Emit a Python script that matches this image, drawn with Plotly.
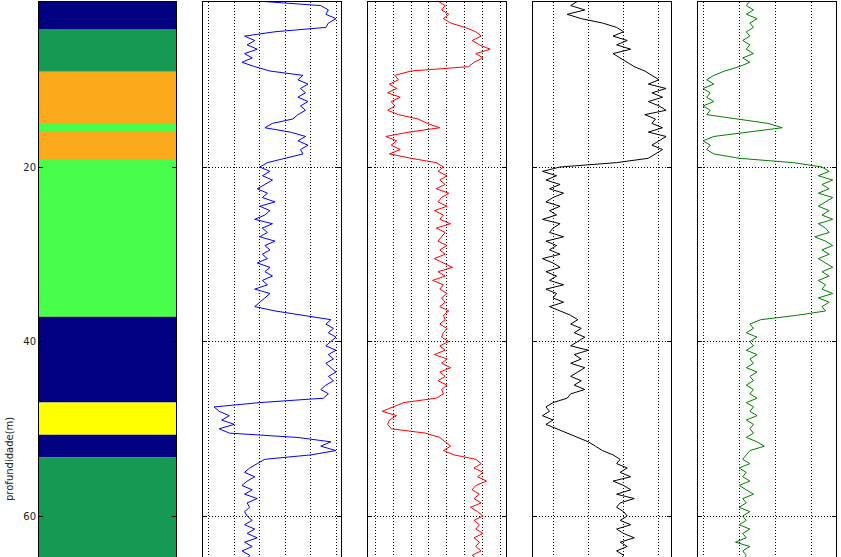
import plotly.graph_objects as go

# ---------------- data ----------------
# facies column: band tops / bottoms (m) and colours
facies_top = [1.0, 4.18, 9.08, 15.07, 15.87, 19.2, 37.16, 47.0, 50.7, 53.3]
facies_bottom = [4.18, 9.08, 15.07, 15.87, 19.2, 37.16, 47.0, 50.7, 53.3, 66.0]
facies_color = ["#000080", "#169952", "#F9A91A", "#47FF4A", "#F9A91A",
                "#47FF4A", "#000080", "#FFFF00", "#000080", "#169952"]

depth_start = 1.0
depth_step = 0.5

log_blue = [2.0, 4.4, 4.7, 4.6, 5.0, 4.7, 4.6, 2.6, 1.4, 1.8, 1.5, 1.9, 1.4, 1.7, 1.3, 1.8,
            2.4, 3.7, 3.5, 3.9, 3.6, 3.8, 3.5, 3.9, 3.6, 3.8, 3.5, 3.3, 2.5, 2.2, 3.2, 3.8,
            3.5, 3.9, 3.6, 3.7, 3.0, 2.3, 2.0, 2.4, 2.1, 2.5, 2.2, 1.9, 2.3, 2.1, 2.6, 2.0,
            2.4, 2.2, 1.8, 2.5, 2.1, 2.3, 2.0, 2.6, 2.2, 2.4, 2.1, 2.3, 1.9, 2.4, 2.2, 2.5,
            2.1, 2.3, 1.8, 2.4, 2.2, 2.0, 1.8, 2.6, 3.8, 4.8, 4.6, 4.9, 4.7, 5.0, 4.8, 4.6,
            5.0, 4.7, 4.9, 4.6, 4.8, 5.0, 4.7, 4.9, 4.6, 4.4, 4.7, 4.5, 2.0, 0.2, 0.4, 0.8,
            0.5, 1.0, 0.4, 0.8, 3.5, 4.8, 4.4, 5.0, 4.0, 2.2, 1.9, 1.6, 1.4, 1.8, 1.5, 1.3,
            1.7, 1.4, 1.9, 1.5, 1.6, 1.4, 1.5, 1.7, 1.4, 1.8, 1.5, 1.9, 1.4, 1.7, 1.3, 1.6,
            1.5]

log_red = [3.5, 3.9, 3.7, 4.1, 3.8, 4.2, 5.0, 5.6, 5.9, 5.4, 5.8, 6.4, 5.6, 6.0, 5.5, 5.2,
           2.0, 1.1, 1.3, 0.8, 1.2, 0.7, 1.4, 0.9, 1.1, 0.7, 1.3, 2.4, 2.9, 3.6, 1.9, 0.6,
           1.2, 0.9, 1.4, 0.8, 2.0, 3.4, 3.8, 3.5, 4.0, 3.6, 3.9, 3.4, 4.1, 3.7, 3.5, 4.0,
           3.3, 3.8, 3.6, 4.2, 3.4, 3.9, 3.7, 3.5, 4.0, 3.6, 3.9, 3.3, 3.8, 4.3, 3.5, 3.9,
           3.2, 3.8, 3.6, 4.0, 3.7, 3.9, 3.6, 4.1, 3.8, 3.9, 3.6, 4.0, 3.8, 3.7, 4.1, 3.6,
           3.9, 3.3, 4.0, 3.7, 4.2, 3.6, 3.9, 3.5, 4.0, 3.7, 3.8, 3.4, 1.6, 1.0, 0.4, 1.2,
           0.8, 0.7, 0.9, 2.8, 3.6, 3.9, 4.2, 3.8, 4.4, 5.6, 5.9, 5.5, 6.0, 5.7, 6.2, 5.6,
           5.4, 5.8, 5.5, 5.9, 5.3, 5.7, 6.0, 5.5, 5.8, 5.6, 6.0, 5.5, 5.8, 5.6, 5.9, 5.4,
           5.7]

log_black = [0.7, 0.5, 0.9, 0.4, 0.8, 1.4, 1.8, 2.0, 1.7, 2.1, 1.8, 2.2, 1.7, 1.9, 2.1, 2.3,
             2.6, 2.8, 3.0, 2.7, 3.2, 2.8, 3.1, 2.7, 3.0, 3.2, 2.6, 2.9, 2.8, 3.1, 2.7, 3.2,
             3.0, 2.8, 3.1, 2.9, 2.7, 1.8, 0.2, -0.3, 0.1, -0.2, 0.2, -0.1, 0.3, 0.0, -0.2, 0.2,
             -0.1, 0.1, -0.3, 0.2, 0.0, -0.1, 0.3, -0.2, 0.1, -0.1, 0.2, -0.3, 0.0, 0.2, -0.2, 0.1,
             -0.1, 0.3, -0.2, 0.1, 0.0, 0.3, -0.1, 0.2, 0.5, 0.7, 0.5, 0.8, 0.6, 0.9, 0.7, 0.5,
             1.0, 0.6, 0.8, 0.5, 0.9, 0.7, 0.5, 0.8, 0.6, 0.9, 0.5, 0.4, 0.0, -0.2, -0.1, -0.3,
             0.0, -0.2, 0.1, 0.4, 0.7, 1.0, 1.2, 1.4, 1.7, 1.9, 1.8, 2.1, 1.9, 2.2, 1.7, 2.0,
             2.2, 1.8, 2.3, 1.9, 1.8, 2.0, 2.1, 1.9, 2.2, 1.8, 2.0, 2.3, 1.9, 2.1, 1.8, 2.0,
             1.9]

log_green = [1.3, 1.2, 1.4, 1.2, 1.5, 1.3, 1.4, 1.2, 1.3, 1.1, 1.3, 1.2, 1.4, 1.1, 1.3, 1.0,
             0.6, 0.3, 0.1, 0.3, 0.0, 0.2, 0.1, 0.3, 0.0, 0.2, 0.1, 1.0, 1.8, 2.2, 1.2, 0.3,
             0.0, 0.2, 0.1, 0.3, 1.0, 2.5, 3.3, 3.5, 3.2, 3.6, 3.3, 3.5, 3.2, 3.6, 3.4, 3.2,
             3.5, 3.3, 3.6, 3.2, 3.4, 3.5, 3.1, 3.4, 3.6, 3.3, 3.5, 3.2, 3.4, 3.6, 3.3, 3.5,
             3.2, 3.4, 3.3, 3.6, 3.2, 3.5, 3.3, 3.4, 2.6, 1.6, 1.3, 1.4, 1.2, 1.5, 1.3, 1.4,
             1.2, 1.5, 1.3, 1.4, 1.2, 1.5, 1.3, 1.4, 1.2, 1.4, 1.3, 1.5, 1.2, 1.4, 1.3, 1.5,
             1.2, 1.4, 1.3, 1.4, 1.2, 1.5, 1.7, 1.3, 1.2, 1.1, 1.3, 1.0, 1.2, 1.1, 1.3, 1.0,
             1.2, 1.4, 1.1, 1.2, 1.0, 1.3, 1.1, 1.2, 1.0, 1.3, 1.1, 1.2, 0.9, 1.3, 1.1, 1.2,
             1.1]

y_ticks = [20, 40, 60]
y_tick_labels = ["20", "40", "60"]
y_title = "profundidade(m)"

# ---------------- figure ----------------
W, H = 841, 557
fig = go.Figure()

# facies column
fig.add_trace(go.Bar(
    x=[0] * len(facies_top),
    y=[b - t for t, b in zip(facies_top, facies_bottom)],
    base=facies_top,
    width=1.0,
    marker=dict(color=facies_color, line=dict(width=0)),
    xaxis="x", yaxis="y", showlegend=False, hoverinfo="skip",
))

logs = [(log_blue, "blue"), (log_red, "red"), (log_black, "black"), (log_green, "green")]
for i, (vals, col) in enumerate(logs):
    depth = [depth_start + depth_step * k for k in range(len(vals))]
    fig.add_trace(go.Scatter(
        x=vals, y=depth, mode="lines",
        line=dict(color=col, width=1),
        xaxis="x%d" % (i + 2), yaxis="y%d" % (i + 2), showlegend=False,
    ))

# panel geometry (pixels)
panels_px = [(39, 176), (203, 341), (368, 506), (533, 671), (698, 836)]
x_ranges = [[-0.5, 0.5], [-0.236, 5.197], [-0.39, 7.28], [-0.567, 3.34], [-0.14, 3.69]]
x_ticks = [None, [0, 1, 2, 3, 4, 5], [0, 1, 2, 3, 4, 5, 6, 7], [0, 1, 2, 3], [0, 1, 2, 3]]

y_top_px = 2
y_dom = [0, 1 - y_top_px / H]
# depth scale: y_px = 8.725*d - 7.5
d_top = (y_top_px + 7.5) / 8.725
d_bot = (H + 7.5) / 8.725

DOT = "1px,2px"

layout = dict(
    width=W, height=H,
    margin=dict(l=0, r=0, t=0, b=0),
    paper_bgcolor="white", plot_bgcolor="white",
    barmode="overlay",
    font=dict(family="DejaVu Sans", size=10, color="#222"),
)

for i in range(5):
    xa = "xaxis" if i == 0 else "xaxis%d" % (i + 1)
    ya = "yaxis" if i == 0 else "yaxis%d" % (i + 1)
    yref = "y" if i == 0 else "y%d" % (i + 1)
    x0, x1 = panels_px[i]
    layout[xa] = dict(
        domain=[x0 / W, x1 / W], anchor=yref, range=x_ranges[i],
        side="top", showline=True, linecolor="black", linewidth=1,
        showticklabels=False, ticks="", zeroline=False,
        showgrid=x_ticks[i] is not None,
        tickmode="array", tickvals=x_ticks[i] if x_ticks[i] else [],
        gridcolor="black", griddash=DOT, gridwidth=1,
    )
    layout[ya] = dict(
        domain=y_dom, anchor="x" if i == 0 else "x%d" % (i + 1),
        range=[d_bot, d_top],
        showline=True, mirror="ticks", linecolor="black", linewidth=1,
        ticks="inside", ticklen=4, tickcolor="black",
        tickmode="array", tickvals=y_ticks, ticktext=y_tick_labels,
        showticklabels=(i == 0), zeroline=False,
        showgrid=(i != 0), gridcolor="black", griddash=DOT, gridwidth=1,
    )
    if i > 0:
        layout[ya]["matches"] = "y"

fig.update_layout(**layout)

fig.add_annotation(
    text=y_title, textangle=-90, showarrow=False,
    xref="paper", yref="paper", x=9 / W, y=1 - 459 / H,
    xanchor="center", yanchor="middle",
    font=dict(family="DejaVu Sans", size=10, color="#222"),
)

fig.write_html("out.html")
